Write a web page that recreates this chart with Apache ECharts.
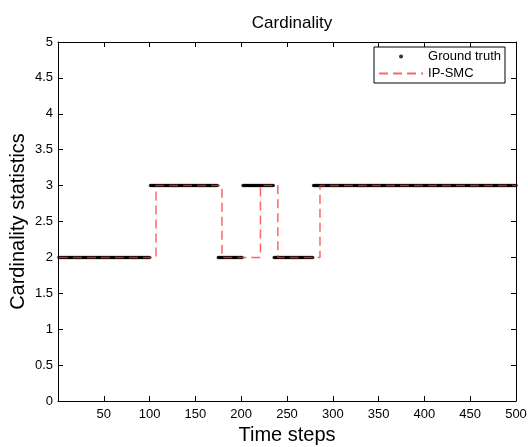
<!DOCTYPE html>
<html><head><meta charset="utf-8">
<script src="https://cdn.jsdelivr.net/npm/echarts@6/dist/echarts.min.js"></script>
<style>html,body{margin:0;padding:0;background:#fff}#c{width:528px;height:447px}</style>
</head><body><div id="c"></div>
<script>
// Ground truth: run-length segments [startStep, endStep, cardinality]
var gtSegments = [[1,100,2],[101,174,3],[175,201,2],[202,235,3],[236,278,2],[279,500,3]];
// IP-SMC change points (x, value)
var ipsX = [1, 107, 179, 221, 240, 286, 500];
var ipsY = [2, 3, 2, 3, 2, 3, 3];
var xTicks = [50,100,150,200,250,300,350,400,450,500];
var yTicks = [0,0.5,1,1.5,2,2.5,3,3.5,4,4.5,5];

var gtData = [];
gtSegments.forEach(function(s){ for (var t=s[0]; t<=s[1]; t++) gtData.push([t, s[2]]); });
var ipsData = ipsX.map(function(x,i){ return [x, ipsY[i]]; });

var font = 'Liberation Sans, Arial, sans-serif';
var tick = {show:true, inside:true, length:5, lineStyle:{color:'#000', width:1}};
var line = {show:true, onZero:false, lineStyle:{color:'#000', width:1}};
var chart = echarts.init(document.getElementById('c'));
chart.setOption({
  animation:false,
  title:{text:'Cardinality', left:287, top:10, textAlign:'center',
    textStyle:{fontFamily:font, fontSize:17, fontWeight:'normal', color:'#000'}},
  grid:{left:58, right:12, top:42, bottom:46, containLabel:false, outerBoundsMode:'none'},
  legend:{right:23, top:47, orient:'vertical', backgroundColor:'#fff', borderColor:'#000', borderWidth:1,
    borderRadius:0, padding:[3,4,3,4], itemGap:4, itemWidth:44, itemHeight:4,
    textStyle:{fontFamily:font, fontSize:13, color:'#000'},
    data:[{name:'Ground truth', icon:'circle', itemStyle:{color:'#000'}},
          {name:'IP-SMC', itemStyle:{color:'rgba(0,0,0,0)', borderWidth:0, opacity:0}}]},
  xAxis:[{type:'value', min:0, max:500, interval:50, position:'bottom',
    name:'Time steps', nameLocation:'middle', nameGap:22,
    nameTextStyle:{fontFamily:font, fontSize:20, color:'#000'},
    axisLine:line, axisTick:tick,
    axisLabel:{fontFamily:font, fontSize:13, color:'#000', margin:7,
      formatter:function(v){return xTicks.indexOf(v)>=0 ? String(v) : '';}},
    splitLine:{show:false}},
   {type:'value', min:0, max:500, interval:50, position:'top',
    axisLine:line, axisTick:tick, axisLabel:{show:false}, splitLine:{show:false}}],
  yAxis:[{type:'value', min:0, max:5, interval:0.5, position:'left',
    name:'Cardinality statistics', nameLocation:'middle', nameGap:30, nameRotate:90, nameMoveOverlap:false,
    nameTextStyle:{fontFamily:font, fontSize:20, color:'#000'},
    axisLine:line, axisTick:tick,
    axisLabel:{fontFamily:font, fontSize:13, color:'#000', margin:5,
      formatter:function(v){return yTicks.indexOf(v)>=0 ? String(v) : '';}},
    splitLine:{show:false}},
   {type:'value', min:0, max:5, interval:0.5, position:'right',
    axisLine:line, axisTick:tick, axisLabel:{show:false}, splitLine:{show:false}}],
  series:[
    {name:'Ground truth', type:'scatter', data:gtData, symbol:'circle', symbolSize:3.5,
      itemStyle:{color:'#000'}, silent:true},
    {name:'IP-SMC', type:'line', data:ipsData, step:'end', symbol:'none',
      lineStyle:{color:'rgba(255,50,50,0.75)', width:1.5, type:[9,5]},
      itemStyle:{color:'rgba(255,50,50,0.75)'}},
    {type:'line', xAxisIndex:1, yAxisIndex:1, data:[], silent:true}
  ]
});
</script></body></html>
